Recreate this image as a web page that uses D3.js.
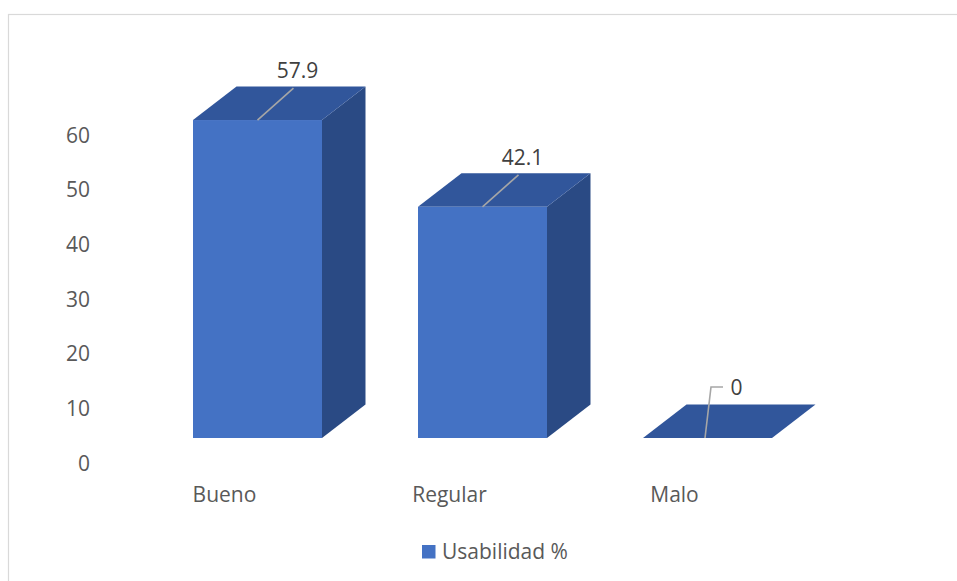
<!DOCTYPE html>
<html>
<head>
<meta charset="utf-8">
<script src="https://cdn.jsdelivr.net/npm/d3@7"></script>
<style>
  html, body { margin: 0; padding: 0; background: #fff; }
  svg { display: block; }
  text { font-family: "Open Sans", sans-serif; }
</style>
</head>
<body>
<div class="container"></div>
<script>
const width = 957;
const height = 581;

// data
const categories = ["Bueno", "Regular", "Malo"];
const values = [57.9, 42.1, 0];
const yTicks = [0, 10, 20, 30, 40, 50, 60];
const seriesName = "Usabilidad %";

const front = "#4472c4";
const top_ = "#31569b";
const side = "#2a4a84";
const depthX = 43.5;
const depthY = -33.5;

const svg = d3.select(".container")
    .append("svg")
    .attr("width", width)
    .attr("height", height);

// chart frame (runs off the right and bottom of the picture)
svg.append("rect")
    .attr("x", 8.5)
    .attr("y", 14.5)
    .attr("width", 1000)
    .attr("height", 700)
    .attr("fill", "none")
    .attr("stroke", "#d9d9d9")
    .attr("stroke-width", 1.2);

const x = d3.scaleBand()
    .domain(categories)
    .range([193, 772])
    .paddingInner(0.4267)
    .paddingOuter(0);

// front-face scale for the bars
const y = d3.scaleLinear()
    .domain([0, 60])
    .range([438, 108.5]);

// axis sits on the back wall, so its labels use their own scale
const yAxisScale = d3.scaleLinear()
    .domain([0, 60])
    .range([463.5, 135.5]);

const axis = svg.append("g")
    .attr("transform", "translate(90,0)")
    .call(d3.axisLeft(yAxisScale).tickValues(yTicks).tickSize(0).tickPadding(0));
axis.select(".domain").remove();
axis.selectAll("text")
    .attr("font-family", "Open Sans, sans-serif")
    .attr("font-size", 21)
    .attr("fill", "#595959");

const bw = x.bandwidth();
const bars = svg.append("g");

categories.forEach((c, i) => {
    const x0 = x(c);
    const x1 = x0 + bw;
    const y0 = y(0);
    const y1 = y(values[i]);
    const g = bars.append("g");

    // right side
    if (values[i] > 0) {
        g.append("path")
            .attr("d", `M${x1},${y1} L${x1 + depthX},${y1 + depthY} L${x1 + depthX},${y0 + depthY} L${x1},${y0} Z`)
            .attr("fill", side);
    }
    // top
    g.append("path")
        .attr("d", `M${x0},${y1} L${x0 + depthX},${y1 + depthY} L${x1 + depthX},${y1 + depthY} L${x1},${y1} Z`)
        .attr("fill", top_);
    // front
    if (values[i] > 0) {
        g.append("rect")
            .attr("x", x0)
            .attr("y", y1)
            .attr("width", bw)
            .attr("height", y0 - y1)
            .attr("fill", front);
    }
});

// data labels with leader lines
const labels = svg.append("g");
categories.forEach((c, i) => {
    const cx = x(c) + bw / 2;
    const yy = y(values[i]);
    if (values[i] > 0) {
        labels.append("line")
            .attr("x1", cx).attr("y1", yy)
            .attr("x2", cx + 36).attr("y2", yy - 32)
            .attr("stroke", "#a6a6a6")
            .attr("stroke-width", 1.6);
        labels.append("text")
            .attr("x", cx + 40)
            .attr("y", yy - 50)
            .attr("text-anchor", "middle")
            .attr("dominant-baseline", "central")
            .attr("font-size", 21)
            .attr("fill", "#404040")
            .text(values[i]);
    } else {
        labels.append("polyline")
            .attr("points", `${cx - 2.5},${yy} ${cx + 3.5},${yy - 51} ${cx + 15.5},${yy - 51}`)
            .attr("fill", "none")
            .attr("stroke", "#a6a6a6")
            .attr("stroke-width", 1.6);
        labels.append("text")
            .attr("x", cx + 23)
            .attr("y", yy - 51)
            .attr("dominant-baseline", "central")
            .attr("font-size", 21)
            .attr("fill", "#404040")
            .text(values[i]);
    }
});

// category labels
svg.append("g").selectAll("text")
    .data(categories)
    .enter()
    .append("text")
    .attr("x", d => x(d) + bw / 2 - 33)
    .attr("y", 494)
    .attr("text-anchor", "middle")
    .attr("dominant-baseline", "central")
    .attr("font-size", 21)
    .attr("fill", "#595959")
    .text(d => d);

// legend
const legend = svg.append("g");
legend.append("rect")
    .attr("x", 422)
    .attr("y", 545)
    .attr("width", 13.5)
    .attr("height", 13.5)
    .attr("fill", front);
legend.append("text")
    .attr("x", 442)
    .attr("y", 551)
    .attr("dominant-baseline", "central")
    .attr("font-size", 21)
    .attr("fill", "#595959")
    .text(seriesName);
</script>
</body>
</html>
